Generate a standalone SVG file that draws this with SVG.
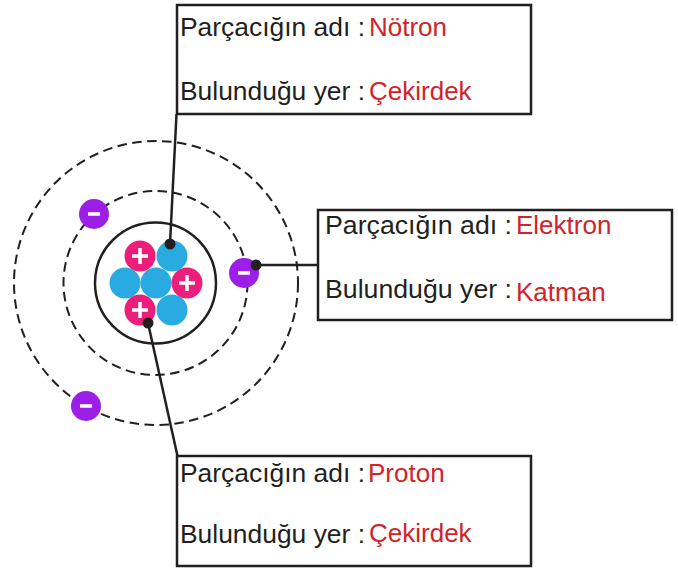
<svg xmlns="http://www.w3.org/2000/svg" width="678" height="568" viewBox="0 0 678 568">
<style>
.lbl{font-family:"Liberation Sans",Arial,sans-serif;font-size:26.5px;fill:#231f20}
.val{font-family:"Liberation Sans",Arial,sans-serif;font-size:26px;fill:#d2232a}
.box{fill:#fff;stroke:#231f20;stroke-width:2.5}
.orbit{fill:none;stroke:#231f20;stroke-width:2;stroke-dasharray:9.5 5.5}
.p{fill:#ec1e79}
.n{fill:#29abe2}
.e{fill:#9b1fe6}
.sign{stroke:#fff;stroke-width:3.5;stroke-linecap:butt}
.conn{stroke:#231f20;stroke-width:2.5;fill:none}
.dot{fill:#231f20}
</style>
<rect width="678" height="568" fill="#fff"/>
<g id="atom">
<circle class="orbit" cx="156" cy="283" r="142"/>
<circle class="orbit" cx="155.5" cy="283" r="92" stroke-dasharray="7.5 4.5"/>
<circle cx="155.5" cy="283" r="60.5" fill="none" stroke="#231f20" stroke-width="2.5"/>
</g>
<g id="nucleus">
<circle class="n" cx="172" cy="256" r="15.5"/>
<circle class="n" cx="125" cy="283" r="15.5"/>
<circle class="n" cx="156" cy="283" r="15.5"/>
<circle class="n" cx="172" cy="310" r="15.5"/>
<circle class="p" cx="140" cy="256" r="15.5"/>
<circle class="p" cx="187" cy="283" r="15.5"/>
<circle class="p" cx="140" cy="310" r="15.5"/>
<path class="sign" d="M132 256h16M140 248v16M179 283h16M187 275v16M132 310h16M140 302v16"/>
</g>
<g id="electrons">
<circle class="e" cx="94" cy="214" r="15"/>
<circle class="e" cx="244" cy="273" r="15"/>
<circle class="e" cx="86" cy="406" r="15"/>
<path class="sign" d="M88 214h12M238 273h12M80 406h12"/>
</g>
<g id="connectors">
<line class="conn" x1="170" y1="244" x2="176.5" y2="114"/>
<line class="conn" x1="256" y1="265" x2="318" y2="265"/>
<line class="conn" x1="148" y1="323" x2="177.5" y2="456"/>
<circle class="dot" cx="170" cy="244" r="5.5"/>
<circle class="dot" cx="256" cy="265" r="5.5"/>
<circle class="dot" cx="148" cy="323" r="5.5"/>
</g>
<g id="box-notron">
<rect class="box" x="177" y="5" width="354" height="109"/>
<text class="lbl" x="180" y="36" textLength="185" lengthAdjust="spacingAndGlyphs">Parçacığın adı :</text>
<text class="val" x="369" y="36">Nötron</text>
<text class="lbl" x="180" y="100" textLength="185" lengthAdjust="spacingAndGlyphs">Bulunduğu yer :</text>
<text class="val" x="369" y="100">Çekirdek</text>
</g>
<g id="box-elektron">
<rect class="box" x="318" y="210" width="354" height="110"/>
<text class="lbl" x="325" y="234" textLength="187" lengthAdjust="spacingAndGlyphs">Parçacığın adı :</text>
<text class="val" x="516" y="234">Elektron</text>
<text class="lbl" x="325" y="298" textLength="187" lengthAdjust="spacingAndGlyphs">Bulunduğu yer :</text>
<text class="val" x="516" y="301">Katman</text>
</g>
<g id="box-proton">
<rect class="box" x="177" y="456" width="354" height="110"/>
<text class="lbl" x="180" y="482" textLength="185" lengthAdjust="spacingAndGlyphs">Parçacığın adı :</text>
<text class="val" x="368" y="482">Proton</text>
<text class="lbl" x="180" y="543" textLength="185" lengthAdjust="spacingAndGlyphs">Bulunduğu yer :</text>
<text class="val" x="369" y="542">Çekirdek</text>
</g>
</svg>
